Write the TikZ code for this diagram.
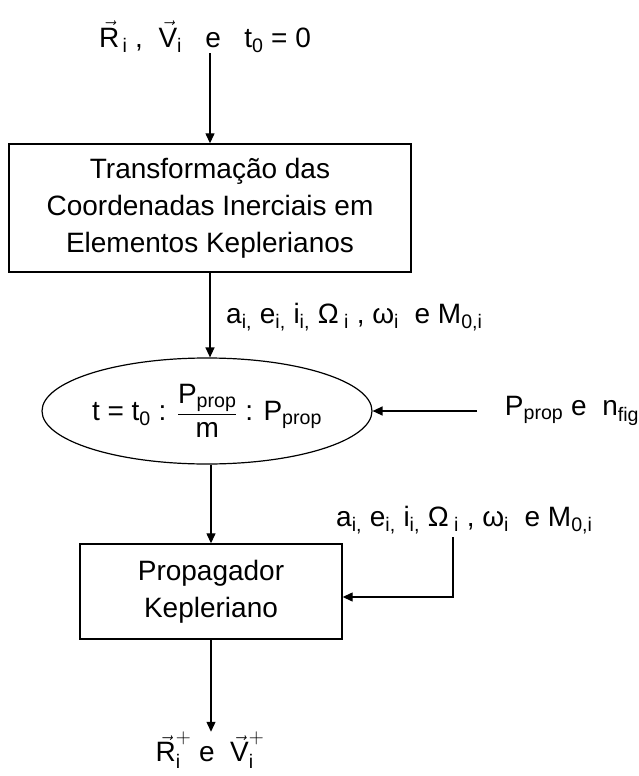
\documentclass[tikz,border=0pt]{standalone}
\usepackage{amsmath}
\usepackage{fontspec}
\setmainfont{Liberation Sans}
\usetikzlibrary{positioning, shapes.geometric, arrows.meta}
\tikzstyle{block} = [rectangle, draw, line width=1.4pt, align=center, inner sep=0pt]
\tikzstyle{arrow} = [line width=1.3pt, -{Triangle[length=10pt,width=9pt]}]
\newcommand{\vv}[1]{\ensuremath{\vec{\text{#1}}}}
\newcommand{\sub}[1]{\textsubscript{#1}}

\begin{document}
\begin{tikzpicture}[
    x=1pt, y=-1pt,
    every node/.style={font=\fontsize{28}{37}\selectfont},
    blockbox/.style={block, minimum width=402pt, minimum height=128pt},
    propbox/.style={block, minimum width=262pt, minimum height=95pt},
    condell/.style={ellipse, draw, line width=1.2pt, minimum width=330pt, minimum height=106pt, inner sep=0pt},
    lbl/.style={inner sep=0pt}
]
    \useasboundingbox (0,0) rectangle (639,776);

    % Initial state
    \node[lbl] (init) at (205,37) {\vv{R}\sub{\,i} ,\ \ \vv{V}\sub{i}\ \ \ e\ \ \ t\sub{0} = 0};

    % Transformation to Keplerian elements
    \node[blockbox] (transf) at (210,208) {Transformação das\\Coordenadas Inerciais em\\Elementos Keplerianos};

    \node[lbl, anchor=west] (elem1) at (226,317) {a\sub{i,} e\sub{i,} i\sub{i,} Ω\sub{ i} , ω\sub{i}\ \ e M\sub{0,i}};

    % Condition at t0
    \node[condell] (cond) at (207,411) {t = t\sub{0} : $\dfrac{\text{P\sub{prop}}}{\text{m}}$ : P\sub{prop}};

    \node[lbl] (pnfig) at (572,411) {P\sub{prop} e\ \ n\sub{fig}};
    \coordinate (pin) at (477,411);

    % Keplerian propagator
    \node[propbox] (kepler) at (211,591.5) {Propagador\\Kepleriano};

    \node[lbl, anchor=west] (elem2) at (336,520) {a\sub{i,} e\sub{i,} i\sub{i,} Ω\sub{ i} , ω\sub{i}\ \ e M\sub{0,i}};
    \coordinate (kin) at (453,537);

    % Final state
    \node[lbl] (final) at (210,750) {$\vec{\text{R}}^{+}_{\text{i}}$ e\ \ $\vec{\text{V}}^{+}_{\text{i}}$};

    % Connections
    \draw[arrow] (init.south -| transf.north) -- (transf);
    \draw[arrow] (transf) -- (transf.south |- cond.north);
    \draw[arrow] (pin) -- (cond.east);
    \draw[arrow] (cond.south -| kepler.north) -- (kepler);
    \draw[arrow] (kin) |- ([yshift=-5.5pt]kepler.east);
    \draw[arrow] (kepler) -- (kepler.south |- final.north);

\end{tikzpicture}
\end{document}
